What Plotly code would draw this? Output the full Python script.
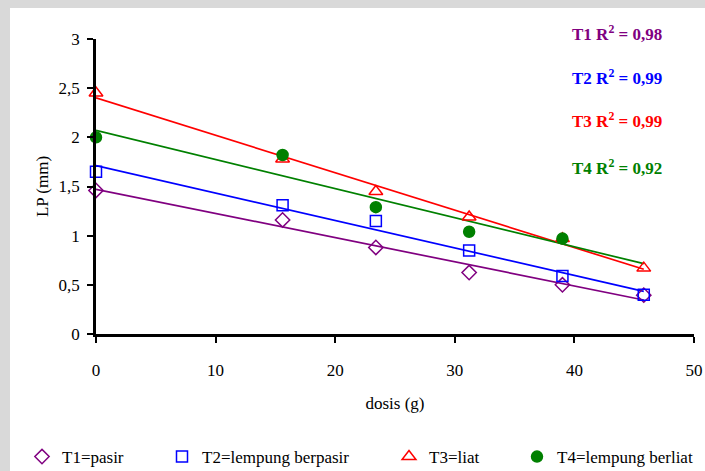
import numpy as np
import plotly.graph_objects as go

dosis = [0, 15.6, 23.4, 31.2, 39.0, 45.8]
t1_pasir = [1.46, 1.16, 0.88, 0.625, 0.50, 0.395]
t2_lempung_berpasir = [1.65, 1.31, 1.15, 0.85, 0.59, 0.40]
t3_liat = [2.45, 1.78, 1.45, 1.19, 0.97, 0.67]
t4_lempung_berliat = [2.00, 1.82, 1.29, 1.04, 0.97]

names = ["T1=pasir", "T2=lempung berpasir", "T3=liat", "T4=lempung berliat"]
r2_labels = ["T1 R<sup>2</sup> = 0,98", "T2 R<sup>2</sup> = 0,99",
             "T3 R<sup>2</sup> = 0,99", "T4 R<sup>2</sup> = 0,92"]
y_tickvals = [0, 0.5, 1, 1.5, 2, 2.5, 3]
y_ticktext = ["0", "0,5", "1", "1,5", "2", "2,5", "3"]
x_tickvals = [0, 10, 20, 30, 40, 50]

series = [t1_pasir, t2_lempung_berpasir, t3_liat, t4_lempung_berliat]
colors = ["#800080", "#0000FF", "#FF0000", "#008000"]
symbols = ["diamond-open", "square-open", "triangle-up-open", "circle"]
msizes = [11, 11, 12, 11]
FONT = "Liberation Serif"

fig = go.Figure()

# trend lines (linear regression of each series), spanning full dose range
x_line = np.array([min(dosis), max(dosis)])
for ys, c in zip(series, colors):
    xs = np.array(dosis[:len(ys)])
    k, b = np.polyfit(xs, np.array(ys), 1)
    fig.add_trace(go.Scatter(x=x_line, y=k * x_line + b, mode="lines",
                             line=dict(color=c, width=1.7), showlegend=False,
                             hoverinfo="skip", cliponaxis=False))

legend_names = ["legend", "legend2", "legend3", "legend4"]
for ys, c, s, ms, n, lg in zip(series, colors, symbols, msizes, names, legend_names):
    fig.add_trace(go.Scatter(x=dosis[:len(ys)], y=ys, mode="markers", name=n,
                             marker=dict(symbol=s, color=c, size=ms,
                                         line=dict(color=c, width=1.5)),
                             cliponaxis=False, legend=lg))

# R^2 annotations
r2_y = [33, 77, 120, 167]  # pixel rows (converted to paper below)
for lab, c, py in zip(r2_labels, colors, r2_y):
    fig.add_annotation(xref="paper", yref="paper", x=(617 - 96) / 598,
                       y=(334 - py) / 295, text=lab, showarrow=False,
                       xanchor="center", yanchor="middle",
                       font=dict(family=FONT, size=17, color=c, weight="bold"))

# gray frame strips
fig.add_shape(type="rect", xref="paper", yref="paper",
              x0=-0.2, x1=(10 - 96) / 598, y0=-0.6, y1=1.3,
              fillcolor="#d9d9d9", line_width=0, layer="below")
fig.add_shape(type="rect", xref="paper", yref="paper",
              x0=-0.2, x1=1.1, y0=(334 - 8) / 295, y1=1.3,
              fillcolor="#d9d9d9", line_width=0, layer="below")

legend_text_start = [58, 198, 425, 553]
legends = {}
for lg, tx in zip(legend_names, legend_text_start):
    legends[lg] = dict(orientation="h", x=(tx - 36 - 96) / 598, xanchor="left",
                       y=(334 - 457) / 295, yanchor="middle",
                       bgcolor="rgba(0,0,0,0)", borderwidth=0,
                       font=dict(family=FONT, size=17, color="black"))

fig.update_layout(
    width=705, height=471,
    margin=dict(l=96, r=11, t=39, b=137, autoexpand=False),
    paper_bgcolor="white", plot_bgcolor="white",
    font=dict(family=FONT, size=17, color="black"),
    xaxis=dict(range=[0, 50], tickvals=x_tickvals, showgrid=False, zeroline=False,
               showline=True, linecolor="black", linewidth=2.5,
               ticks="outside", ticklen=6, tickwidth=2, tickcolor="black",
               ticklabelstandoff=13, automargin=False,
               title=dict(text="dosis (g)", standoff=18,
                          font=dict(family=FONT, size=17))),
    yaxis=dict(range=[0, 3], tickvals=y_tickvals, ticktext=y_ticktext,
               showgrid=False, zeroline=False,
               showline=True, linecolor="black", linewidth=2.5,
               ticks="outside", ticklen=6, tickwidth=2, tickcolor="black",
               ticklabelstandoff=4, automargin=False,
               title=dict(text="LP (mm)", standoff=6,
                          font=dict(family=FONT, size=17))),
    **legends,
)

fig.write_html("out.html", config={"displayModeBar": False},
               post_script="document.body.style.margin='0';"
                           "document.body.style.overflow='hidden';")
